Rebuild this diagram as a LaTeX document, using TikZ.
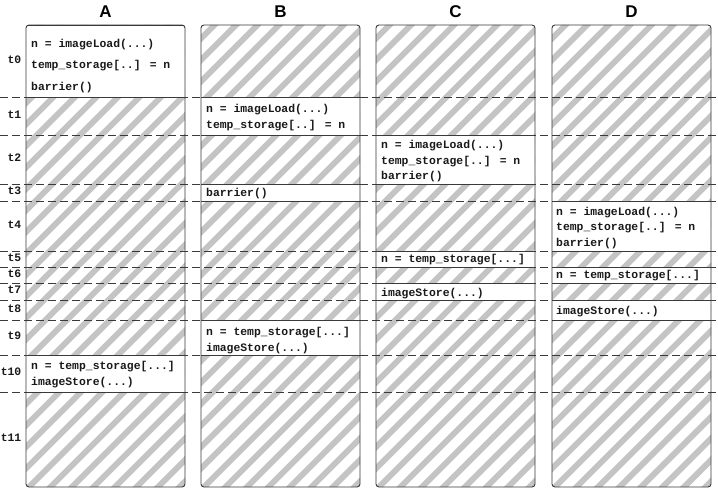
\documentclass[tikz,border=0pt]{standalone}
\usepackage{fontspec}
\newfontfamily\codefont{Liberation Mono}
\newfontfamily\headfont{Liberation Sans}
\definecolor{hatchgray}{HTML}{C4C4C4}
\definecolor{linegray}{HTML}{3A3A3A}
\begin{document}
\begin{tikzpicture}[x=1pt,y=-1pt,
  colbox/.style={draw=linegray,line width=0.9pt,rounded corners=3pt},
  hatch/.style={draw=hatchgray,line width=6pt},
  cellrule/.style={draw=linegray,line width=0.9pt},
  timeline/.style={draw=linegray,line width=0.9pt,dash pattern=on 8pt off 4pt},
  code/.style={font=\codefont\bfseries\fontsize{11.4}{14}\selectfont,inner sep=0pt,anchor=base west,text=black!90},
  tlabel/.style={font=\codefont\bfseries\fontsize{11.4}{14}\selectfont,inner sep=0pt,anchor=mid east,text=black!90},
  head/.style={font=\headfont\bfseries\fontsize{17}{20}\selectfont,inner sep=0pt,text=black}]
\useasboundingbox (0,0) rectangle (718,489);
\fill[white] (0,0) rectangle (718,489);
% columns with hatching and white cells
\foreach \x/\cells in {26/{25/97,355/392},201/{97/135,184/201,320/355},376/{135/184,251/267,283/300},552/{201/251,267/283,300/320}}{
  \begin{scope}
    \clip[rounded corners=3pt] (\x,25) rectangle ++(159,462);
    \foreach \k in {-23,...,8}
      \draw[hatch] (\x+\k*21.5,490) -- ++(470,-470);
    \foreach \t/\b in \cells {
      \fill[white] (\x,\t) rectangle (\x+159,\b);
      \draw[cellrule] (\x,\t) -- (\x+159,\t);
      \draw[cellrule] (\x,\b) -- (\x+159,\b);
    }
  \end{scope}
}
% time boundaries
\foreach \y in {97,135,184,201,251,267,283,300,320,355,392}
  \draw[timeline] (0,\y) -- (718,\y);
% column outlines
\foreach \x in {26,201,376,552}
  \draw[colbox] (\x,25) rectangle ++(159,462);
% headings
\node[head] (hA) at (105.5,11.7) {A};
\node[head] (hB) at (280.5,11.7) {B};
\node[head] (hC) at (455.5,11.7) {C};
\node[head] (hD) at (631.5,11.7) {D};
% time labels
\foreach \n/\t/\b in {0/25/97,1/97/135,2/135/184,3/184/201,4/201/251,5/251/267,6/267/283,7/283/300,8/300/320,9/320/355,10/355/392,11/392/487}
  \node[tlabel] (t\n) at (21.5,{(\t+\b)/2}) {t\n};
% column A
\node[code] (a0a) at (31,47.5) {n = imageLoad(...)};
\node[code] (a0b) at (31,69) {temp\_storage[..] = n};
\node[code] (a0c) at (31,91) {barrier()};
\node[code] (a10a) at (31,369) {n = temp\_storage[...]};
\node[code] (a10b) at (31,385) {imageStore(...)};
% column B
\node[code] (b1a) at (206,113) {n = imageLoad(...)};
\node[code] (b1b) at (206,129) {temp\_storage[..] = n};
\node[code] (b3a) at (206,197) {barrier()};
\node[code] (b9a) at (206,335) {n = temp\_storage[...]};
\node[code] (b9b) at (206,351) {imageStore(...)};
% column C
\node[code] (c2a) at (381,149) {n = imageLoad(...)};
\node[code] (c2b) at (381,164.5) {temp\_storage[..] = n};
\node[code] (c2c) at (381,180) {barrier()};
\node[code] (c5a) at (381,262.5) {n = temp\_storage[...]};
\node[code] (c7a) at (381,296.5) {imageStore(...)};
% column D
\node[code] (d4a) at (556,215.5) {n = imageLoad(...)};
\node[code] (d4b) at (556,231) {temp\_storage[..] = n};
\node[code] (d4c) at (556,246.5) {barrier()};
\node[code] (d6a) at (556,279) {n = temp\_storage[...]};
\node[code] (d8a) at (556,315) {imageStore(...)};
\end{tikzpicture}
\end{document}
